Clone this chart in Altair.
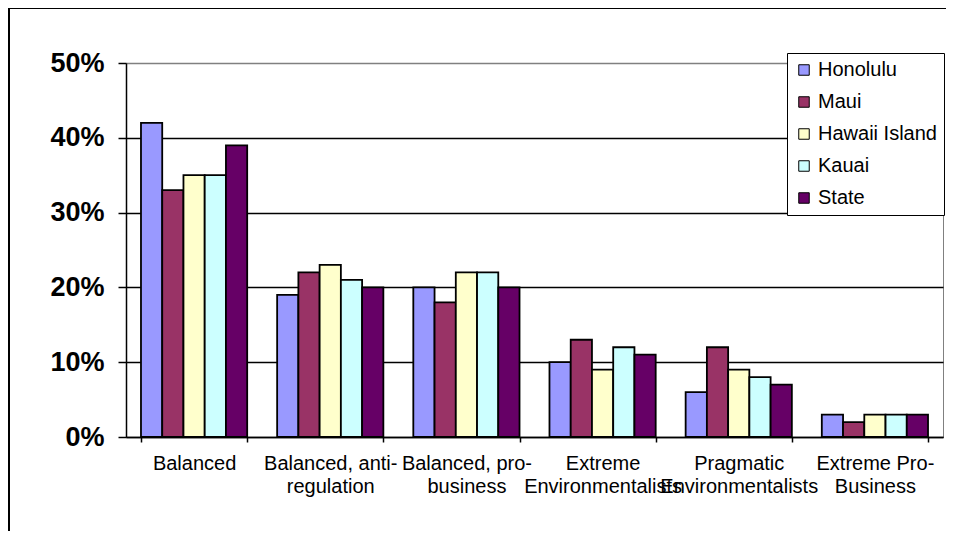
import altair as alt
import pandas as pd

categories = ["Balanced", "Balanced, anti-regulation", "Balanced, pro-business",
              "Extreme Environmentalists", "Pragmatic Environmentalists", "Extreme Pro-Business"]
label_lines = [["Balanced"], ["Balanced, anti-", "regulation"], ["Balanced, pro-", "business"],
               ["Extreme", "Environmentalists"], ["Pragmatic", "Environmentalists"],
               ["Extreme Pro-", "Business"]]
series = ["Honolulu", "Maui", "Hawaii Island", "Kauai", "State"]
colors = ["#9999FF", "#993366", "#FFFFCC", "#CCFFFF", "#660066"]
honolulu = [0.42, 0.19, 0.20, 0.10, 0.06, 0.03]
maui = [0.33, 0.22, 0.18, 0.13, 0.12, 0.02]
hawaii = [0.35, 0.23, 0.22, 0.09, 0.09, 0.03]
kauai = [0.35, 0.21, 0.22, 0.12, 0.08, 0.03]
state = [0.39, 0.20, 0.20, 0.11, 0.07, 0.03]
y_ticks = [0, 0.1, 0.2, 0.3, 0.4, 0.5]

vals = [honolulu, maui, hawaii, kauai, state]
rows = []
for s, v in zip(series, vals):
    for c, x in zip(categories, v):
        rows.append({"category": c, "series": s, "value": x})
df = pd.DataFrame(rows)

mapping = ", ".join(
    "'" + c + "': [" + ", ".join("'" + l + "'" for l in ll) + "]"
    for c, ll in zip(categories, label_lines)
)
label_expr = "({" + mapping + "})[datum.value]"

W, H = 817, 374
FONT = "Liberation Sans"

bars = alt.Chart(df).mark_bar(stroke="black", strokeWidth=1.8).encode(
    x=alt.X("category:N", sort=categories, title=None,
            scale=alt.Scale(paddingInner=0.22, paddingOuter=0.11),
            axis=alt.Axis(labelExpr=label_expr, labelAngle=0, labelFontSize=20,
                          labelFont=FONT, labelColor="black", labelLineHeight=23,
                          tickBand="extent", tickSize=5, tickColor="black",
                          domainColor="black", domainWidth=1.5, tickWidth=1.5,
                          labelPadding=11, grid=False, labelLimit=300)),
    xOffset=alt.XOffset("series:N", sort=series, scale=alt.Scale(paddingInner=0, paddingOuter=0)),
    y=alt.Y("value:Q", title=None,
            scale=alt.Scale(domain=[0, 0.5], nice=False),
            axis=alt.Axis(values=y_ticks, format=".0%", labelFontSize=27, labelFont=FONT,
                          labelFontWeight="bold", labelColor="black", tickSize=8,
                          tickColor="black", tickWidth=1.5, domainColor="black",
                          domainWidth=1.5, labelPadding=14, grid=True,
                          gridColor={"condition": {"test": "datum.value >= 0.5", "value": "#808080"},
                                     "value": "black"},
                          gridWidth=1.4)),
    color=alt.Color("series:N", sort=series,
                    scale=alt.Scale(domain=series, range=colors),
                    legend=alt.Legend(title=None, orient="none", legendX=661, legendY=-10,
                                      fillColor="white", strokeColor="black",
                                      padding=7, symbolType="square", symbolSize=110,
                                      symbolStrokeColor="black", symbolStrokeWidth=1,
                                      labelFontSize=20, labelFont=FONT, labelColor="black",
                                      rowPadding=12, labelOffset=4, symbolOpacity=1)),
)

border = alt.Chart(pd.DataFrame({"a": [0]})).mark_rect(
    fill=None, stroke="black", strokeWidth=2, clip=False
).encode(x=alt.value(-117), x2=alt.value(W + 60), y=alt.value(-55), y2=alt.value(H + 200))

chart = alt.layer(border, bars).properties(
    width=W, height=H,
    padding={"left": 118, "top": 55, "right": 3, "bottom": 94},
    autosize=alt.AutoSizeParams(type="none"),
    background="white",
).configure_view(stroke="#808080", strokeWidth=1)

chart.save("out.html", embed_options={"renderer": "svg", "actions": False})
